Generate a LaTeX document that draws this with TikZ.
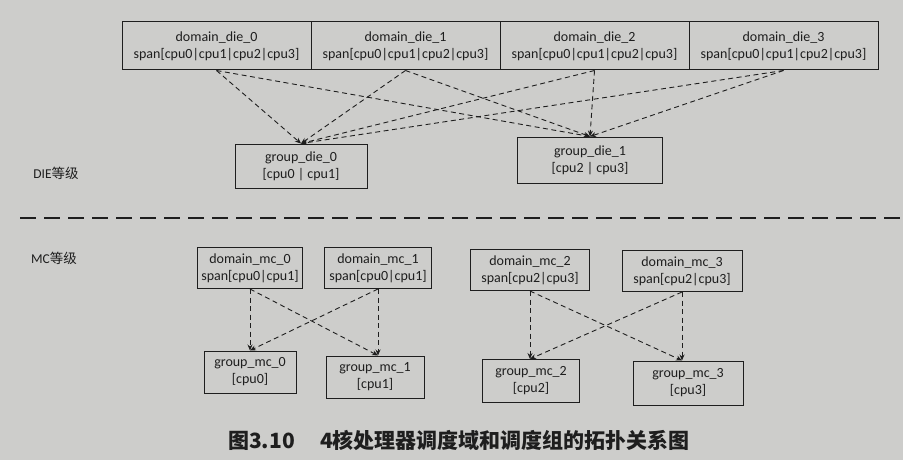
\documentclass[tikz,border=0pt]{standalone}
\usepackage{fontspec}
\setmainfont{Carlito}
\newfontfamily\cjk{Noto Sans CJK SC}
\usetikzlibrary{arrows.meta}
\definecolor{paper}{RGB}{205,205,203}
\definecolor{ink}{RGB}{30,30,30}

\begin{document}
\begin{tikzpicture}[x=1pt,y=1pt,
  box/.style={draw=ink,line width=1pt,text=ink,align=center,inner sep=0pt,font=\fontsize{14}{17}\selectfont},
  link/.style={draw=ink,line width=0.9pt,dash pattern=on 5pt off 3.5pt,-{Stealth[length=6pt,width=5pt]}},
  lvl/.style={text=ink,font=\fontsize{13.5}{15}\selectfont}]
\fill[paper] (0,0) rectangle (903,-460);
\useasboundingbox (0,0) rectangle (903,-460);
% DIE level
\node[box,minimum width=189pt,minimum height=48pt] (ddie0) at (216.5,-46) {domain\_die\_0\\span[cpu0|cpu1|cpu2|cpu3]};
\node[box,minimum width=189pt,minimum height=48pt] (ddie1) at (405.5,-46) {domain\_die\_1\\span[cpu0|cpu1|cpu2|cpu3]};
\node[box,minimum width=189pt,minimum height=48pt] (ddie2) at (594.5,-46) {domain\_die\_2\\span[cpu0|cpu1|cpu2|cpu3]};
\node[box,minimum width=189pt,minimum height=48pt] (ddie3) at (783.5,-46) {domain\_die\_3\\span[cpu0|cpu1|cpu2|cpu3]};
\node[box,minimum width=132pt,minimum height=44pt] (gdie0) at (301,-166) {group\_die\_0\\{}[cpu0 | cpu1]};
\node[box,minimum width=145pt,minimum height=46pt] (gdie1) at (590,-160) {group\_die\_1\\{}[cpu2 | cpu3]};
\foreach \i in {0,...,3} {
  \draw[link] (ddie\i.south) -- (gdie0.north);
  \draw[link] (ddie\i.south) -- (gdie1.north);
}
\node[lvl] (ldie) at (56,-173) {DIE{\cjk 等级}};
% separator
\draw[ink,line width=2.6pt,dash pattern=on 16pt off 8pt] (20,-218) -- (903,-218);
% MC level
\node[lvl] (lmc) at (54,-258) {MC{\cjk 等级}};
\node[box,minimum width=105pt,minimum height=41pt] (dmc0) at (250,-268) {domain\_mc\_0\\span[cpu0|cpu1]};
\node[box,minimum width=107pt,minimum height=41pt] (dmc1) at (378,-268) {domain\_mc\_1\\span[cpu0|cpu1]};
\node[box,minimum width=119pt,minimum height=41pt] (dmc2) at (530,-270) {domain\_mc\_2\\span[cpu2|cpu3]};
\node[box,minimum width=120pt,minimum height=41pt] (dmc3) at (682,-271) {domain\_mc\_3\\span[cpu2|cpu3]};
\node[box,minimum width=92pt,minimum height=42pt] (gmc0) at (250,-372) {group\_mc\_0\\{}[cpu0]};
\node[box,minimum width=98pt,minimum height=42pt] (gmc1) at (375,-377) {group\_mc\_1\\{}[cpu1]};
\node[box,minimum width=97pt,minimum height=43pt] (gmc2) at (531,-381) {group\_mc\_2\\{}[cpu2]};
\node[box,minimum width=110pt,minimum height=44pt] (gmc3) at (688,-383) {group\_mc\_3\\{}[cpu3]};
\foreach \a/\b in {0/1,1/0,2/3,3/2} {
  \draw[link] (dmc\a.south) -- (dmc\a.south |- gmc\a.north);
  \draw[link] (dmc\a.south) -- (dmc\b.south |- gmc\b.north);
}
% caption
\node[text=ink,font=\cjk\bfseries\fontsize{21}{24}\selectfont] (cap) at (459,-440) {图3.10\hspace{1.2em}4核处理器调度域和调度组的拓扑关系图};
\end{tikzpicture}
\end{document}
